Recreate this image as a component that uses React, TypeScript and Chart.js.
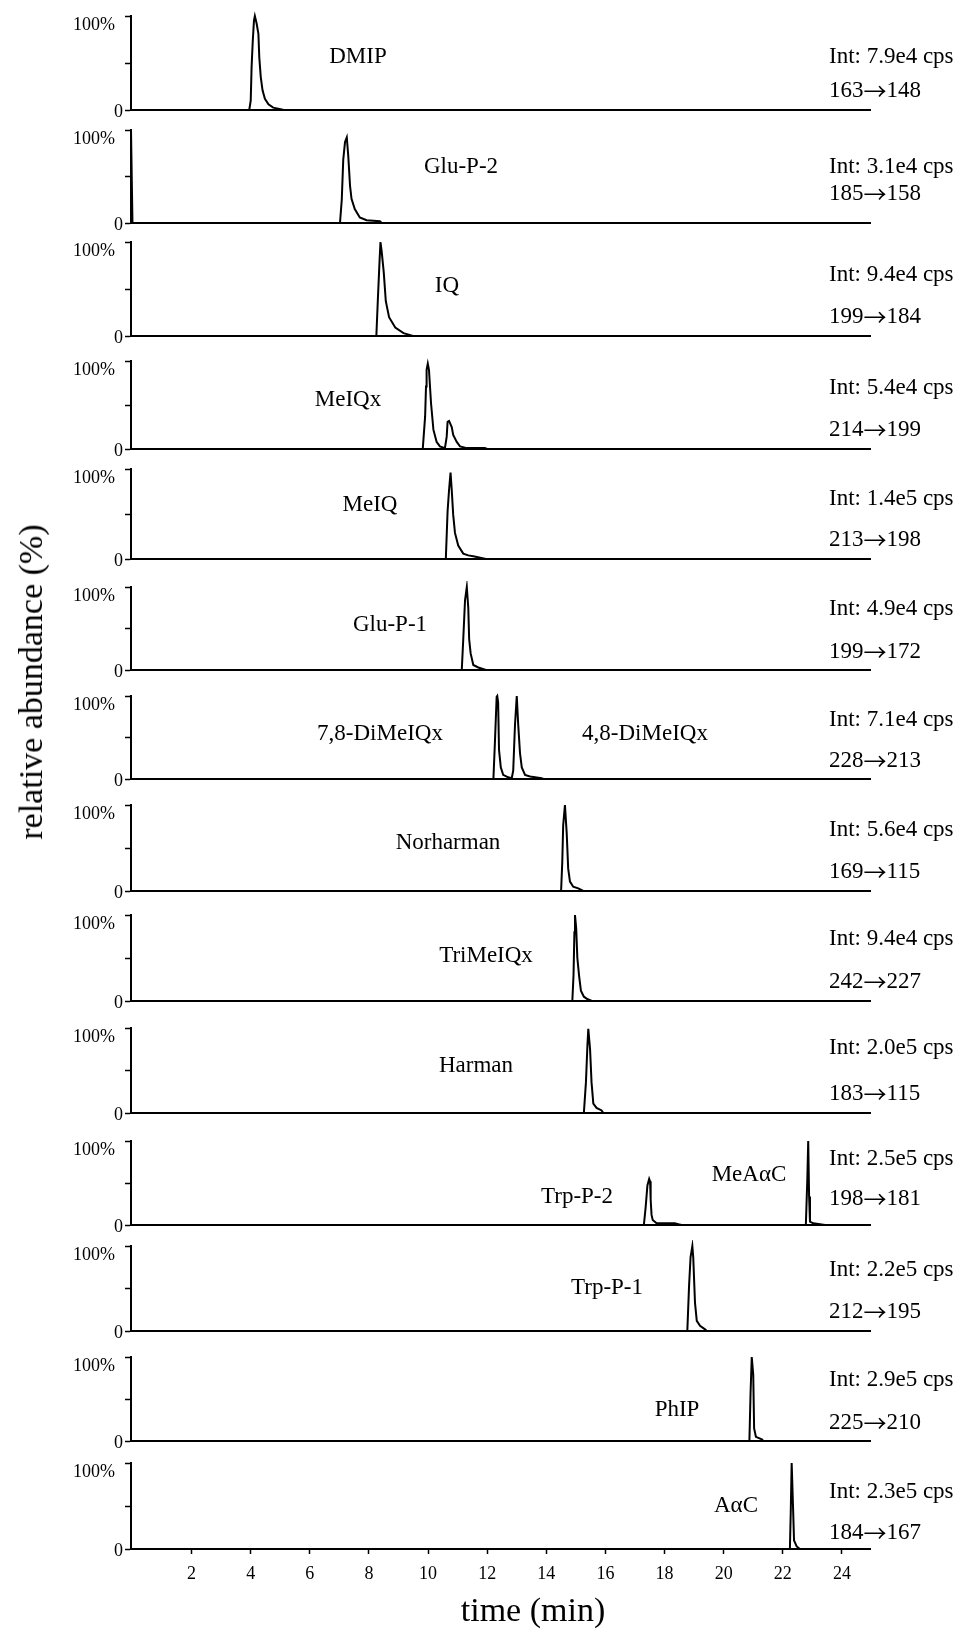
import React, { useEffect, useRef } from 'react';
import { Chart, registerables } from 'chart.js';

Chart.register(...registerables);

const FONT = "'Liberation Serif', 'Times New Roman', Times, serif";
const ARROW_FONT = "'Noto Sans CJK JP', 'DejaVu Sans', sans-serif";

// ---------- data ----------
const panelNames: string[][] = [
  ['DMIP'], ['Glu-P-2'], ['IQ'], ['MeIQx'], ['MeIQ'], ['Glu-P-1'],
  ['7,8-DiMeIQx', '4,8-DiMeIQx'], ['Norharman'], ['TriMeIQx'], ['Harman'],
  ['Trp-P-2', 'MeAαC'], ['Trp-P-1'], ['PhIP'], ['AαC'],
];
const intensityLabels = [
  'Int: 7.9e4 cps', 'Int: 3.1e4 cps', 'Int: 9.4e4 cps', 'Int: 5.4e4 cps', 'Int: 1.4e5 cps',
  'Int: 4.9e4 cps', 'Int: 7.1e4 cps', 'Int: 5.6e4 cps', 'Int: 9.4e4 cps', 'Int: 2.0e5 cps',
  'Int: 2.5e5 cps', 'Int: 2.2e5 cps', 'Int: 2.9e5 cps', 'Int: 2.3e5 cps',
];
const transitionLabels = [
  '163→148', '185→158', '199→184', '214→199', '213→198', '199→172', '228→213',
  '169→115', '242→227', '183→115', '198→181', '212→195', '225→210', '184→167',
];
const xTickValues = [2, 4, 6, 8, 10, 12, 14, 16, 18, 20, 22, 24];
const yTickValues = [0, 50, 100];
const yTickLabels = ['0', '100%'];
const xTitle = 'time (min)';
const yTitle = 'relative abundance (%)';

const dmipTime = [0, 3.95, 4.0, 4.03, 4.07, 4.11, 4.14, 4.2, 4.26, 4.29, 4.34, 4.4, 4.48, 4.6, 4.76, 5.05, 5.1, 24.95];
const dmipPct = [0, 0, 10, 46, 74, 95, 100, 92, 81, 56, 35, 21, 12, 6, 2.5, 0.7, 0, 0];

const gluP2Time = [-0.05, 0.0, 7.02, 7.08, 7.13, 7.19, 7.25, 7.3, 7.36, 7.41, 7.52, 7.69, 7.92, 8.37, 8.43, 24.95];
const gluP2Pct = [100, 0, 0, 25, 68, 87, 92, 72, 40, 26, 15, 6, 3, 2, 0, 0];

const iqTime = [0, 8.25, 8.3, 8.36, 8.39, 8.43, 8.5, 8.57, 8.68, 8.89, 9.17, 9.49, 24.95];
const iqPct = [0, 0, 38, 81, 100, 90, 68, 37, 20, 9, 3, 0, 0];

const meiqxTime = [0, 9.82, 9.9, 9.93, 9.95, 9.99, 10.03, 10.1, 10.18, 10.29, 10.4, 10.57, 10.63, 10.66, 10.71, 10.8, 10.85, 10.97, 11.08, 11.31, 11.92, 12.0, 24.95];
const meiqxPct = [0, 0, 37, 71, 90, 97, 90, 52, 22, 8, 3, 1, 14, 31, 32, 25, 16, 8, 3, 1, 1, 0, 0];

const meiqTime = [0, 10.6, 10.66, 10.71, 10.76, 10.8, 10.85, 10.91, 11.02, 11.19, 11.36, 11.53, 11.96, 24.95];
const meiqPct = [0, 0, 53, 77, 96, 77, 49, 29, 15, 6, 4, 3, 0, 0];

const gluP1Time = [0, 11.14, 11.19, 11.25, 11.31, 11.36, 11.39, 11.44, 11.53, 11.7, 11.96, 24.95];
const gluP1Pct = [0, 0, 37, 84, 100, 75, 37, 20, 6, 3, 0, 0];

const dimeiqxTime = [0, 12.21, 12.26, 12.32, 12.34, 12.37, 12.4, 12.46, 12.54, 12.71, 12.83, 12.88, 12.94, 13.0, 13.05, 13.11, 13.17, 13.28, 13.45, 13.84, 13.9, 24.95];
const dimeiqxPct = [0, 0, 43, 99, 100, 92, 35, 14, 5, 2, 1, 10, 65, 100, 65, 31, 14, 5, 3, 1, 0, 0];

const norharmanTime = [0, 14.5, 14.54, 14.57, 14.63, 14.69, 14.74, 14.8, 14.91, 15.08, 15.25, 24.95];
const norharmanPct = [0, 0, 34, 76, 100, 67, 26, 11, 5, 3, 0, 0];

const trimeiqxTime = [0, 14.88, 14.92, 14.95, 14.97, 15.01, 15.05, 15.11, 15.17, 15.27, 15.4, 15.54, 24.95];
const trimeiqxPct = [0, 0, 30, 80, 100, 85, 50, 29, 12, 5, 2, 0, 0];

const harmanTime = [0, 15.27, 15.34, 15.39, 15.42, 15.48, 15.53, 15.59, 15.7, 15.87, 15.93, 24.95];
const harmanPct = [0, 0, 36, 79, 99, 75, 36, 11, 6, 3, 0, 0];

const trpP2Time = [0, 17.3, 17.36, 17.42, 17.48, 17.51, 17.53, 17.56, 17.6, 17.73, 18.35, 18.46, 18.58, 22.78, 22.83, 22.86, 22.89, 22.92, 23.03, 23.43, 24.95];
const trpP2Pct = [0, 0, 21, 47, 55, 52, 30, 12, 6, 2, 2, 1, 0, 0, 55, 100, 34, 4, 2, 0, 0];

const trpP1Time = [0, 18.77, 18.83, 18.88, 18.94, 18.97, 19.03, 19.09, 19.2, 19.37, 19.43, 24.95];
const trpP1Pct = [0, 0, 54, 87, 100, 87, 33, 12, 6, 2, 0, 0];

const phipTime = [0, 20.87, 20.91, 20.95, 21.0, 21.03, 21.09, 21.29, 21.34, 24.95];
const phipPct = [0, 0, 58, 100, 79, 15, 5, 2, 0, 0];

const aacTime = [0, 22.24, 22.27, 22.3, 22.35, 22.38, 22.47, 22.58, 24.95];
const aacPct = [0, 0, 45, 100, 45, 10, 3, 0, 0];

const traceTimes = [dmipTime, gluP2Time, iqTime, meiqxTime, meiqTime, gluP1Time, dimeiqxTime, norharmanTime, trimeiqxTime, harmanTime, trpP2Time, trpP1Time, phipTime, aacTime];
const tracePcts = [dmipPct, gluP2Pct, iqPct, meiqxPct, meiqPct, gluP1Pct, dimeiqxPct, norharmanPct, trimeiqxPct, harmanPct, trpP2Pct, trpP1Pct, phipPct, aacPct];

// ---------- layout (pixels) ----------
const W = 961;
const AXIS_LEFT = 131;
const RIGHT_PAD = 91;
const X_MIN = -0.05;
const X_MAX = 24.95;
const PAD_T = 16;
const panelTop = [16, 130, 242, 361, 469, 587, 696, 805, 915, 1028, 1141, 1246, 1357, 1463];
const panelBase = [110, 223, 336, 449, 559, 670, 779, 891, 1001, 1113, 1225, 1331, 1441, 1549];
const nameX = [[358], [461], [447], [348], [370], [390], [380, 645], [448], [486], [476], [577, 749], [607], [677], [736]];
const nameDy = [[53], [56], [50], [49], [54], [45], [45, 45], [48], [45], [47], [28, 50], [43], [31], [43]];
const intX = 829;
const intDy = [53, 56, 61, 61, 60, 61, 59, 61, 62, 65, 66, 61, 61, 57];
const transDy = [19, 29, 19, 19, 19, 18, 18, 19, 19, 19, 26, 19, 18, 16];

function drawTransition(ctx: CanvasRenderingContext2D, label: string, x: number, y: number) {
  const parts = label.split('→');
  ctx.font = `23px ${FONT}`;
  ctx.fillText(parts[0], x, y);
  let cx = x + ctx.measureText(parts[0]).width;
  ctx.font = `23px ${ARROW_FONT}`;
  ctx.fillText('→', cx, y);
  cx += ctx.measureText('→').width;
  ctx.font = `23px ${FONT}`;
  ctx.fillText(parts[1], cx, y);
}

function Panel({ index }: { index: number }) {
  const ref = useRef<HTMLCanvasElement | null>(null);
  const isLast = index === panelTop.length - 1;
  const bottomPad = isLast ? 46 : 14;
  const height = panelBase[index] - panelTop[index] + PAD_T + bottomPad;

  useEffect(() => {
    if (!ref.current) return;
    const pts = traceTimes[index].map((t, i) => ({ x: t, y: tracePcts[index][i] }));
    const textPlugin = {
      id: 'panelText' + index,
      afterDraw(chart: any) {
        const { ctx, chartArea, scales } = chart;
        const yTop = scales.y.getPixelForValue(100);
        const yBase = scales.y.getPixelForValue(0);
        ctx.save();
        ctx.fillStyle = '#000';
        ctx.textBaseline = 'middle';
        ctx.font = `18px ${FONT}`;
        ctx.textAlign = 'right';
        ctx.fillText(yTickLabels[1], chartArea.left - 16, yTop + 9);
        ctx.fillText(yTickLabels[0], chartArea.left - 8, yBase + 2);
        ctx.font = `23px ${FONT}`;
        ctx.textAlign = 'center';
        panelNames[index].forEach((n, k) => {
          ctx.fillText(n, nameX[index][k], yBase - nameDy[index][k]);
        });
        ctx.textAlign = 'left';
        ctx.fillText(intensityLabels[index], intX, yBase - intDy[index]);
        drawTransition(ctx, transitionLabels[index], intX, yBase - transDy[index]);
        ctx.restore();
      },
    };
    const chart = new Chart(ref.current, {
      type: 'line',
      data: {
        datasets: [
          {
            data: pts,
            borderColor: '#000',
            borderWidth: 2,
            pointRadius: 0,
            tension: 0,
            fill: false,
            clip: 6,
          } as any,
        ],
      },
      options: {
        animation: false,
        responsive: false,
        maintainAspectRatio: false,
        devicePixelRatio: 1,
        events: [],
        layout: { padding: { top: PAD_T, right: RIGHT_PAD, left: 0, bottom: 0 } },
        plugins: { legend: { display: false }, tooltip: { enabled: false } },
        scales: {
          x: {
            type: 'linear',
            min: X_MIN,
            max: X_MAX,
            afterFit: (s: any) => { s.height = bottomPad; },
            afterBuildTicks: (s: any) => { s.ticks = xTickValues.map((v) => ({ value: v })); },
            grid: { display: isLast, drawOnChartArea: false, drawTicks: true, tickLength: 5, tickWidth: 1.5, tickColor: '#000' },
            border: { display: true, color: '#000', width: 2 },
            ticks: { display: isLast, color: '#000', font: { family: FONT, size: 18 }, padding: 9, maxRotation: 0, autoSkip: false },
          },
          y: {
            type: 'linear',
            min: 0,
            max: 100,
            afterFit: (s: any) => { s.width = AXIS_LEFT; },
            afterBuildTicks: (s: any) => { s.ticks = yTickValues.map((v) => ({ value: v })); },
            grid: { display: true, drawOnChartArea: false, drawTicks: true, tickLength: 6, tickWidth: 1.5, tickColor: '#000' },
            border: { display: true, color: '#000', width: 2 },
            ticks: { display: false },
          },
        },
      } as any,
      plugins: [textPlugin],
    });
    return () => chart.destroy();
  }, [index]);

  return (
    <canvas
      ref={ref}
      width={W}
      height={height}
      style={{ position: 'absolute', left: 0, top: panelTop[index] - PAD_T, width: W, height }}
    />
  );
}

export default function App() {
  return (
    <div style={{ position: 'absolute', left: 0, top: 0, width: W, height: 1630, background: '#fff', overflow: 'hidden' }}>
      {panelTop.map((_, i) => (
        <Panel key={i} index={i} />
      ))}
      <div
        style={{
          position: 'absolute', left: 31, top: 682, transform: 'translate(-50%, -50%) rotate(-90deg)',
          fontFamily: FONT, fontSize: 34, lineHeight: 1, whiteSpace: 'nowrap', color: '#000',
        }}
      >
        {yTitle}
      </div>
      <div
        style={{
          position: 'absolute', left: 533, top: 1610, transform: 'translate(-50%, -50%)',
          fontFamily: FONT, fontSize: 34, lineHeight: 1, whiteSpace: 'nowrap', color: '#000',
        }}
      >
        {xTitle}
      </div>
    </div>
  );
}
